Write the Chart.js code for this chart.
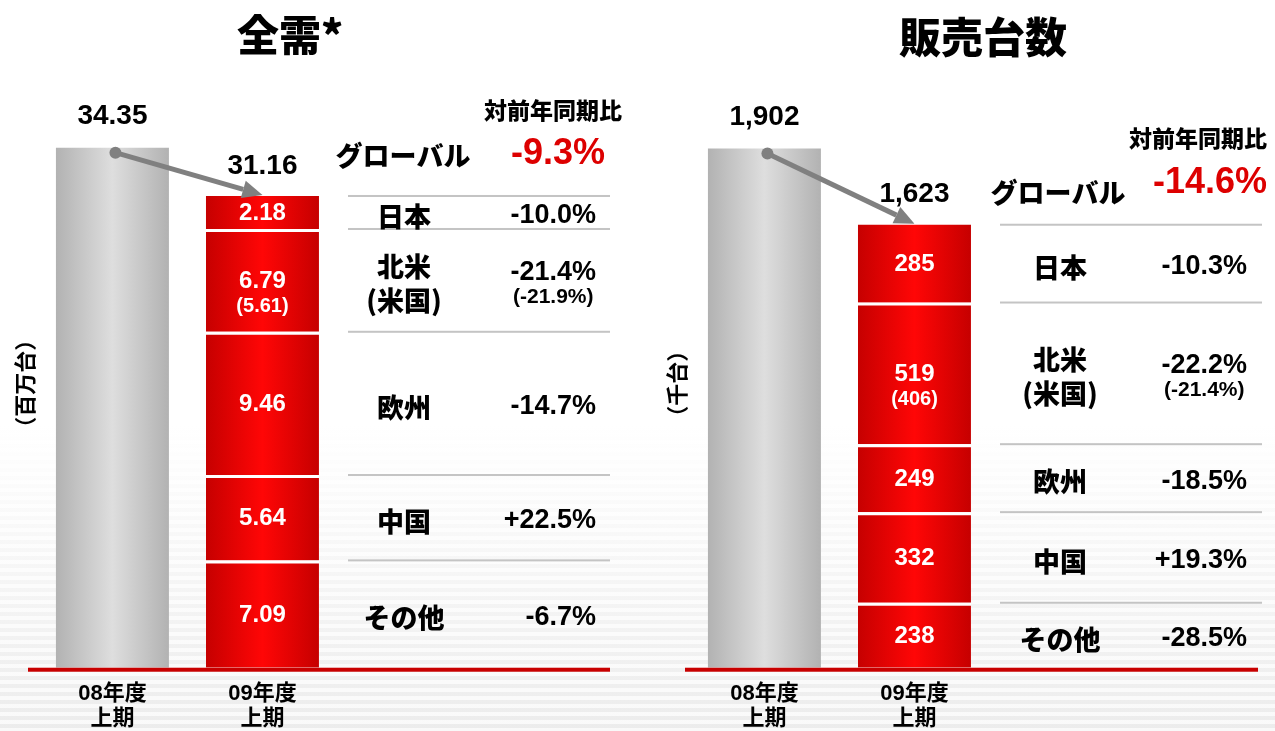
<!DOCTYPE html>
<html lang="ja">
<head>
<meta charset="utf-8">
<title>全需・販売台数</title>
<script src="https://cdn.jsdelivr.net/npm/chart.js@4.4.1/dist/chart.umd.min.js"></script>
<style>
  html, body { margin: 0; padding: 0; }
  body {
    width: 1275px;
    height: 731px;
    position: relative;
    overflow: hidden;
    background:
      repeating-linear-gradient(180deg, rgba(255,255,255,0.7) 0 4px, rgba(255,255,255,0) 4px 8px),
      linear-gradient(180deg, #ffffff 0%, #ffffff 58%, #ececec 100%);
  }
  canvas { position: absolute; top: 0; }
  #demandChart { left: 0; }
  #salesChart { left: 640px; }
</style>
</head>
<body>
<canvas id="demandChart" width="640" height="731"></canvas>
<canvas id="salesChart" width="635" height="731"></canvas>
<script>
// bottom to top of the stacked bar
const periodLabels = [['08年度', '上期'], ['09年度', '上期']];
const regionNames = [['その他'], ['中国'], ['欧州'], ['北米', '(米国)'], ['日本']];

const demandPrevTotal = 34.35;
const demandRegions = [7.09, 5.64, 9.46, 6.79, 2.18];
const demandUsa = 5.61;
const demandYoY = ['-6.7%', '+22.5%', '-14.7%', '-21.4%', '-10.0%'];
const demandUsaYoY = '(-21.9%)';
const demandGlobalYoY = '-9.3%';

const salesPrevTotal = 1902;
const salesRegions = [238, 332, 249, 519, 285];
const salesUsa = 406;
const salesYoY = ['-28.5%', '+19.3%', '-18.5%', '-22.2%', '-10.3%'];
const salesUsaYoY = '(-21.4%)';
const salesGlobalYoY = '-14.6%';

const NUM_FONT = '"Liberation Sans", "Noto Sans CJK JP", sans-serif';
const JP_FONT = '"Noto Sans CJK JP", "Liberation Sans", sans-serif';
const GRAY_STOPS = ['#b2b2b2', '#dedede'];
const RED_STOPS = ['#c60000', '#ff0606'];
const BAR_PCT = 0.753;

function drawText(ctx, str, x, y, size, family, color, align, weight) {
  ctx.font = (weight || 'bold') + ' ' + size + 'px ' + family;
  ctx.fillStyle = color;
  ctx.textAlign = align || 'center';
  ctx.textBaseline = 'middle';
  ctx.fillText(str, x, y);
}

function barFill(stops) {
  return function (c) {
    const chart = c.chart;
    const area = chart.chartArea;
    if (!area || !chart.scales.x) return stops[1];
    const x = chart.scales.x.getPixelForValue(c.dataIndex);
    const half = (area.right - area.left) / chart.data.labels.length * BAR_PCT / 2;
    const g = chart.ctx.createLinearGradient(x - half, 0, x + half, 0);
    g.addColorStop(0, stops[0]);
    g.addColorStop(0.5, stops[1]);
    g.addColorStop(1, stops[0]);
    return g;
  };
}

function makePanelPlugin(panel) {
  return {
    id: 'panel',
    afterDatasetsDraw: function (chart) {
      const ctx = chart.ctx;
      const area = chart.chartArea;
      const t = panel.table;
      const prev = chart.getDatasetMeta(0).data[0];
      const segs = panel.values.map(function (v, i) {
        return chart.getDatasetMeta(i + 1).data[1];
      });
      const top = segs[segs.length - 1];
      const total = panel.values.reduce(function (a, b) { return a + b; }, 0);

      ctx.save();

      // red baseline
      ctx.fillStyle = '#c80000';
      ctx.fillRect(panel.baseline[0], area.bottom, panel.baseline[1] - panel.baseline[0], 4);

      // panel title
      drawText(ctx, panel.title, panel.titleX, panel.titleY, 42, JP_FONT, '#000', 'center', '900');

      // totals above bars
      drawText(ctx, panel.format(panel.prev), prev.x, prev.y - 31, 28, NUM_FONT, '#000');
      drawText(ctx, panel.format(total), top.x, top.y - 30, 28, NUM_FONT, '#000');

      // arrow from old total to new total
      const sx = prev.x + 3, sy = prev.y + 5;
      const ex = top.x, ey = top.y - 1;
      const ang = Math.atan2(ey - sy, ex - sx);
      const cos = Math.cos(ang), sin = Math.sin(ang);
      const head = 20, wing = 9;
      ctx.strokeStyle = '#808080';
      ctx.fillStyle = '#808080';
      ctx.lineWidth = 5;
      ctx.beginPath();
      ctx.moveTo(sx, sy);
      ctx.lineTo(ex - cos * head, ey - sin * head);
      ctx.stroke();
      ctx.beginPath();
      ctx.arc(sx, sy, 6, 0, Math.PI * 2);
      ctx.fill();
      ctx.beginPath();
      ctx.moveTo(ex, ey);
      ctx.lineTo(ex - cos * head + sin * wing, ey - sin * head - cos * wing);
      ctx.lineTo(ex - cos * head - sin * wing, ey - sin * head + cos * wing);
      ctx.closePath();
      ctx.fill();

      // table header
      drawText(ctx, '対前年同期比', t.headerX, t.headerY, 23, JP_FONT, '#000', 'center', '900');
      drawText(ctx, 'グローバル', t.globalNameX, t.globalNameY, 27, JP_FONT, '#000', 'center', '900');
      drawText(ctx, panel.globalYoY, t.globalValueX, t.globalValueY, 36, NUM_FONT, '#dd0000', 'right');

      segs.forEach(function (el, i) {
        const cy = (el.y + el.base) / 2 + 1;
        const name = regionNames[i];

        // separator line at top of each segment
        ctx.fillStyle = '#c4c4c4';
        ctx.fillRect(t.left, el.y - 1, t.right - t.left, 2);

        if (name.length > 1) {
          drawText(ctx, panel.format(panel.values[i]), el.x, cy, 24, NUM_FONT, '#fff');
          drawText(ctx, '(' + panel.format(panel.usa) + ')', el.x, cy + 25, 20, NUM_FONT, '#fff');
          drawText(ctx, name[0], t.nameX, cy - 15, 27, JP_FONT, '#000', 'center', '900');
          drawText(ctx, name[1], t.nameX, cy + 19, 27, JP_FONT, '#000', 'center', '900');
          drawText(ctx, panel.yoy[i], t.valueX, cy - 9, 27, NUM_FONT, '#000', 'right');
          ctx.font = 'bold 27px ' + NUM_FONT;
          const w = ctx.measureText(panel.yoy[i]).width;
          drawText(ctx, panel.usaYoY, t.valueX - w / 2, cy + 16, 21, NUM_FONT, '#000');
        } else {
          drawText(ctx, panel.format(panel.values[i]), el.x, cy, 24, NUM_FONT, '#fff');
          drawText(ctx, name[0], t.nameX, cy + 3, 27, JP_FONT, '#000', 'center', '900');
          drawText(ctx, panel.yoy[i], t.valueX, cy + 2, 27, NUM_FONT, '#000', 'right');
        }
      });

      ctx.restore();
    }
  };
}

function buildPanel(canvasId, panel, axisTitle, yMax, padding) {
  const datasets = [
    { data: [panel.prev, null], backgroundColor: barFill(GRAY_STOPS), borderWidth: 0 }
  ];
  panel.values.forEach(function (v, i) {
    datasets.push({
      data: [null, v],
      backgroundColor: barFill(RED_STOPS),
      borderColor: '#ffffff',
      borderWidth: i === panel.values.length - 1 ? 0 : { top: 3, right: 0, bottom: 0, left: 0 }
    });
  });

  new Chart(document.getElementById(canvasId), {
    type: 'bar',
    data: { labels: periodLabels, datasets: datasets },
    plugins: [makePanelPlugin(panel)],
    options: {
      responsive: false,
      animation: false,
      devicePixelRatio: 1,
      layout: { padding: padding },
      datasets: { bar: { categoryPercentage: 1, barPercentage: BAR_PCT } },
      plugins: {
        legend: { display: false },
        tooltip: { enabled: false },
        title: { display: false }
      },
      scales: {
        x: {
          stacked: true,
          grid: { display: false, drawTicks: false },
          border: { display: false },
          ticks: {
            color: '#000',
            padding: 14,
            maxRotation: 0,
            autoSkip: false,
            font: { family: NUM_FONT, size: 22, weight: 'bold', lineHeight: 1.12 }
          }
        },
        y: {
          stacked: true,
          min: 0,
          max: yMax,
          ticks: { display: false },
          grid: { display: false, drawTicks: false },
          border: { display: false },
          title: {
            display: true,
            text: axisTitle,
            color: '#000',
            font: { family: JP_FONT, size: 22, weight: 'bold', lineHeight: 1.2 },
            padding: { top: 8, bottom: 0 }
          }
        }
      }
    }
  });
}

buildPanel('demandChart', {
  title: '全需*', titleX: 290, titleY: 35,
  prev: demandPrevTotal, values: demandRegions, usa: demandUsa,
  yoy: demandYoY, usaYoY: demandUsaYoY, globalYoY: demandGlobalYoY,
  format: function (v) { return v.toFixed(2); },
  baseline: [28, 610],
  table: {
    left: 348, right: 610, nameX: 404, valueX: 596,
    headerX: 553, headerY: 110,
    globalNameX: 403, globalNameY: 156,
    globalValueX: 605, globalValueY: 154
  }
}, '（百万台）', 37.5, { left: 3, right: 302.5, top: 100, bottom: -14 });

buildPanel('salesChart', {
  title: '販売台数', titleX: 343, titleY: 37,
  prev: salesPrevTotal, values: salesRegions, usa: salesUsa,
  yoy: salesYoY, usaYoY: salesUsaYoY, globalYoY: salesGlobalYoY,
  format: function (v) { return Math.round(v).toLocaleString('en-US'); },
  baseline: [45, 618],
  table: {
    left: 360, right: 622, nameX: 420, valueX: 607,
    headerX: 558, headerY: 138,
    globalNameX: 418, globalNameY: 193,
    globalValueX: 627, globalValueY: 183
  }
}, '（千台）', 2080, { left: 15, right: 285.5, top: 100, bottom: -14 });
</script>
</body>
</html>
